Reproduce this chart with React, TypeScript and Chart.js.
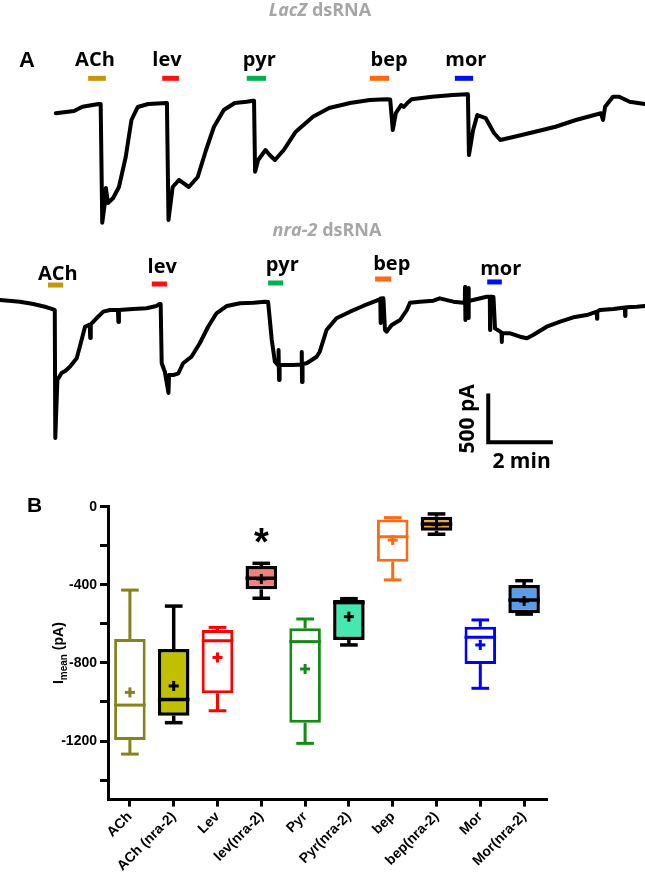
import React, { useEffect, useRef } from "react";
import { Chart, registerables } from "chart.js";

Chart.register(...registerables);

// ---------------- Panel A: current traces (time in s, current in pA) ----------------
const TIME_MAX = 1236.5;

const LACZ_TIME = [107, 142, 158, 189, 193, 196, 201, 203, 207, 217, 228, 241, 252, 264, 284, 320, 323, 331, 343, 351, 362, 379, 395, 410, 429, 450, 473, 485, 487, 489, 495, 509, 517, 527, 544, 567, 600, 631, 671, 709, 741, 748, 753, 759, 769, 774, 781, 789, 828, 868, 895, 897, 899, 907, 915, 931, 947, 959, 986, 1026, 1065, 1104, 1152, 1156, 1160, 1175, 1187, 1207, 1236];
const LACZ_CURRENT = [-142, -118, -72, -43, -43, -1313, -1102, -942, -1102, -1049, -931, -610, -214, -75, -43, -32, -1284, -931, -856, -888, -931, -824, -535, -289, -107, -32, -18, -7, -7, -767, -642, -535, -589, -642, -535, -339, -179, -86, -32, 0, 7, 5, -321, -139, -54, -75, -32, 7, 35, 54, 61, 61, -589, -321, -161, -193, -353, -428, -393, -339, -286, -214, -142, -214, -72, 35, 35, -18, -43];

const NRA_TIME = [0, 38, 64, 90, 102, 105, 106, 110, 118, 125, 134, 147, 153, 163, 172, 173, 174, 179, 188, 198, 211, 226, 227, 228, 255, 281, 300, 305, 308, 310, 316, 323, 324, 332, 342, 351, 367, 383, 399, 415, 435, 460, 486, 508, 514, 521, 527, 533, 534, 535, 536, 562, 578, 578.5, 579, 580, 588, 607, 613, 626, 645, 671, 696, 722, 729, 729.5, 730, 735, 738, 741, 751, 767, 780, 786, 805, 831, 843, 869, 888, 891, 891.5, 892, 892.5, 897.5, 898, 898.5, 899, 907, 933, 939, 939.5, 940, 943, 946, 949, 959, 961.5, 962, 962.5, 978, 997, 1010, 1022, 1048, 1074, 1099, 1125, 1144, 1144.5, 1145, 1150, 1176, 1198, 1198.5, 1199, 1201, 1221, 1236];
const NRA_CURRENT = [0, -18, -43, -78, -100, -107, -1477, -856, -781, -760, -714, -624, -500, -286, -262, -407, -262, -232, -179, -125, -107, -107, -235, -107, -96, -89, -64, -43, -43, -677, -767, -995, -803, -803, -784, -677, -607, -463, -286, -142, -64, -35, -29, -18, -21, -428, -660, -696, -535, -856, -696, -696, -690, -556, -877, -685, -677, -607, -553, -321, -196, -125, -64, -7, 10, -246, 15, 18, -321, -339, -268, -214, -107, -29, -18, -7, 18, -18, -29, -21, 139, -214, -21, -10, 128, -193, -10, 0, 35, 35, -321, 35, 35, 32, -303, -339, -350, -449, -352, -356, -393, -410, -375, -286, -232, -185, -161, -125, -200, -125, -107, -96, -80, -170, -80, -78, -72, -64];

const DRUGS = ["ACh", "lev", "pyr", "bep", "mor"];
const DRUG_COLORS = ["#c8960a", "#ff1010", "#00b050", "#ff6a10", "#0010f0"];

const LACZ_BAR_START = [169, 311, 473, 709, 872];
const LACZ_BAR_END = [203, 343, 510, 746, 907];
const LACZ_BAR_LEVEL = [232, 232, 232, 232, 232];
const LACZ_LABEL_TIME = [182, 320, 497, 746, 893];
const LACZ_LABEL_LEVEL = [364, 364, 364, 364, 364];

const NRA_BAR_START = [92, 291, 514, 719, 934];
const NRA_BAR_END = [121, 320, 543, 750, 962];
const NRA_BAR_LEVEL = [160, 171, 182, 225, 193];
const NRA_LABEL_TIME = [111, 311, 541, 751, 960];
const NRA_LABEL_LEVEL = [214, 285, 310, 321, 268];

// scale bar (in trace units)
const SCALE_T0 = 936;
const SCALE_I0 = -1523;
const SCALE_DT = 120; // 2 min
const SCALE_DI = 500; // 500 pA

// ---------------- Panel B: box plot ----------------
const CATEGORIES = ["ACh", "ACh (nra-2)", "Lev", "lev(nra-2)", "Pyr", "Pyr(nra-2)", "bep", "bep(nra-2)", "Mor", "Mor(nra-2)"];
const MINS = [-1267, -1106, -1045, -469, -1212, -708, -375, -141, -930, -550];
const Q1 = [-1195, -1070, -956, -423, -1106, -683, -282, -123, -806, -546];
const MEDIANS = [-1016, -987, -686, -367, -691, -491, -154, -88, -669, -478];
const Q3 = [-678, -729, -632, -304, -623, -478, -65, -51, -615, -401];
const MAXS = [-427, -509, -618, -290, -575, -471, -56, -37, -580, -379];
const MEANS = [-951, -918, -772, -370, -831, -563, -171, -92, -708, -483];
const OUTLINES = ["#84841a", "#000000", "#ff0000", "#000000", "#168a16", "#000000", "#ff6a10", "#000000", "#0000ff", "#000000"];
const FILLS = ["#ffffff", "#c0c000", "#ffffff", "#f08080", "#ffffff", "#44e8b0", "#ffffff", "#f5a040", "#ffffff", "#5b9be8"];
const Y_TICKS = [0, -200, -400, -600, -800, -1000, -1200, -1400];
const ASTERISK_CATEGORY = 3;
const ASTERISK_VALUE = -135;

const TITLE_FONT = '"Open Sans", "DejaVu Sans", sans-serif';
const ARIAL = '"Liberation Sans", Arial, sans-serif';

function drawTitle(ctx: CanvasRenderingContext2D, parts: [string, boolean][], cx: number, baseline: number) {
  ctx.save();
  ctx.fillStyle = "#a6a6a6";
  ctx.textAlign = "left";
  ctx.textBaseline = "alphabetic";
  let total = 0;
  const widths = parts.map(([t, it]) => {
    ctx.font = `${it ? "italic " : ""}bold 18px ${TITLE_FONT}`;
    const w = ctx.measureText(t).width;
    total += w;
    return w;
  });
  let x = cx - total / 2;
  parts.forEach(([t, it], i) => {
    ctx.font = `${it ? "italic " : ""}bold 18px ${TITLE_FONT}`;
    ctx.fillText(t, x, baseline);
    x += widths[i];
  });
  ctx.restore();
}

function drawDrugs(chart: any, starts: number[], ends: number[], levels: number[], labelT: number[], labelL: number[]) {
  const { ctx, scales } = chart;
  const x = scales.x, y = scales.y;
  ctx.save();
  DRUGS.forEach((d, i) => {
    const yb = y.getPixelForValue(levels[i]);
    ctx.strokeStyle = DRUG_COLORS[i];
    ctx.lineWidth = 5;
    ctx.lineCap = "butt";
    ctx.beginPath();
    ctx.moveTo(x.getPixelForValue(starts[i]), yb);
    ctx.lineTo(x.getPixelForValue(ends[i]), yb);
    ctx.stroke();
    ctx.fillStyle = "#000";
    ctx.font = `bold 20px ${TITLE_FONT}`;
    ctx.textAlign = "center";
    ctx.textBaseline = "alphabetic";
    ctx.fillText(d, x.getPixelForValue(labelT[i]), y.getPixelForValue(labelL[i]));
  });
  ctx.restore();
}

const lacZPlugin = {
  id: "lacZDecor",
  afterDatasetsDraw(chart: any) {
    const ctx = chart.ctx as CanvasRenderingContext2D;
    drawTitle(ctx, [["LacZ", true], [" dsRNA", false]], 320, 15.5);
    ctx.save();
    ctx.fillStyle = "#000";
    ctx.font = `bold 22px ${ARIAL}`;
    ctx.textAlign = "left";
    ctx.textBaseline = "alphabetic";
    ctx.fillText("A", 19, 67);
    ctx.restore();
    drawDrugs(chart, LACZ_BAR_START, LACZ_BAR_END, LACZ_BAR_LEVEL, LACZ_LABEL_TIME, LACZ_LABEL_LEVEL);
  },
};

const nraPlugin = {
  id: "nraDecor",
  afterDatasetsDraw(chart: any) {
    const ctx = chart.ctx as CanvasRenderingContext2D;
    const { x, y } = chart.scales;
    drawTitle(ctx, [["nra-2", true], [" dsRNA", false]], 327, 21);
    drawDrugs(chart, NRA_BAR_START, NRA_BAR_END, NRA_BAR_LEVEL, NRA_LABEL_TIME, NRA_LABEL_LEVEL);
    // scale bar
    const x0 = x.getPixelForValue(SCALE_T0);
    const x1 = x.getPixelForValue(SCALE_T0 + SCALE_DT);
    const y0 = y.getPixelForValue(SCALE_I0);
    const y1 = y.getPixelForValue(SCALE_I0 + SCALE_DI);
    ctx.save();
    ctx.strokeStyle = "#000";
    ctx.lineWidth = 4;
    ctx.lineCap = "square";
    ctx.beginPath();
    ctx.moveTo(x0, y1);
    ctx.lineTo(x0, y0);
    ctx.lineTo(x1, y0);
    ctx.stroke();
    ctx.fillStyle = "#000";
    ctx.font = `bold 21px ${TITLE_FONT}`;
    ctx.textAlign = "center";
    ctx.textBaseline = "alphabetic";
    ctx.fillText("2 min", (x0 + x1) / 2 + 2, y0 + 26);
    ctx.translate(x0 - 14, (y0 + y1) / 2);
    ctx.rotate(-Math.PI / 2);
    ctx.fillText("500 pA", 0, 0);
    ctx.restore();
  },
};

const boxPlugin = {
  id: "boxExtras",
  afterDatasetsDraw(chart: any) {
    const ctx = chart.ctx as CanvasRenderingContext2D;
    const { x, y } = chart.scales;
    const meta = chart.getDatasetMeta(0);
    meta.data.forEach((bar: any, i: number) => {
      const cx = bar.x;
      const w = bar.width;
      const cap = w * 0.28;
      const col = OUTLINES[i];
      const lw = col === "#000000" ? 3.5 : 3;
      const py = (v: number) => y.getPixelForValue(v);
      ctx.save();
      ctx.strokeStyle = col;
      ctx.lineWidth = lw;
      ctx.lineCap = "butt";
      const seg = (ax: number, ay: number, bx: number, by: number) => {
        ctx.beginPath();
        ctx.moveTo(ax, ay);
        ctx.lineTo(bx, by);
        ctx.stroke();
      };
      // whiskers
      seg(cx, py(Q3[i]), cx, py(MAXS[i]));
      seg(cx - cap, py(MAXS[i]), cx + cap, py(MAXS[i]));
      seg(cx, py(Q1[i]), cx, py(MINS[i]));
      seg(cx - cap, py(MINS[i]), cx + cap, py(MINS[i]));
      // median
      seg(cx - w / 2, py(MEDIANS[i]), cx + w / 2, py(MEDIANS[i]));
      // mean +
      const my = py(MEANS[i]);
      ctx.lineWidth = 3;
      seg(cx - 5, my, cx + 5, my);
      seg(cx, my - 5, cx, my + 5);
      ctx.restore();
    });
    // asterisk
    const ax = x.getPixelForValue(ASTERISK_CATEGORY);
    const ay = y.getPixelForValue(ASTERISK_VALUE);
    ctx.save();
    ctx.fillStyle = "#000";
    ctx.font = `bold 38px ${ARIAL}`;
    ctx.textAlign = "center";
    ctx.textBaseline = "alphabetic";
    ctx.fillText("*", ax, ay + 0.59 * 38);
    // B label
    ctx.font = `bold 21px ${ARIAL}`;
    ctx.textAlign = "left";
    ctx.fillText("B", 27, 37);
    // y title: I_mean (pA)
    const area = chart.chartArea;
    ctx.translate(57.5, (area.top + area.bottom) / 2);
    ctx.rotate(-Math.PI / 2);
    const f1 = `bold 14px ${ARIAL}`;
    const f2 = `bold 10px ${ARIAL}`;
    ctx.font = f1;
    const w1 = ctx.measureText("I").width;
    const w3 = ctx.measureText(" (pA)").width;
    ctx.font = f2;
    const w2 = ctx.measureText("mean").width;
    let tx = -(w1 + w2 + w3) / 2;
    ctx.font = f1;
    ctx.fillText("I", tx, 5);
    tx += w1;
    ctx.font = f2;
    ctx.fillText("mean", tx, 9);
    tx += w2;
    ctx.font = f1;
    ctx.fillText(" (pA)", tx, 5);
    ctx.restore();
  },
};

function traceConfig(time: number[], current: number[], yMin: number, yMax: number, plugin: any): any {
  return {
    type: "line",
    data: {
      datasets: [
        {
          data: time.map((t, i) => ({ x: t, y: current[i] })),
          borderColor: "#000",
          borderWidth: 4,
          pointRadius: 0,
          tension: 0,
          fill: false,
          borderJoinStyle: "round",
          borderCapStyle: "round",
        },
      ],
    },
    options: {
      animation: false,
      responsive: false,
      maintainAspectRatio: false,
      devicePixelRatio: 1,
      events: [],
      layout: { padding: 0 },
      plugins: { legend: { display: false }, tooltip: { enabled: false } },
      scales: {
        x: { type: "linear", display: false, min: 0, max: TIME_MAX },
        y: { type: "linear", display: false, min: yMin, max: yMax },
      },
    },
    plugins: [plugin],
  };
}

export default function App() {
  const c1 = useRef<HTMLCanvasElement>(null);
  const c2 = useRef<HTMLCanvasElement>(null);
  const c3 = useRef<HTMLCanvasElement>(null);

  useEffect(() => {
    const charts: Chart[] = [];
    charts.push(new Chart(c1.current!, traceConfig(LACZ_TIME, LACZ_CURRENT, -1551.5, 1070, lacZPlugin)));
    charts.push(new Chart(c2.current!, traceConfig(NRA_TIME, NRA_CURRENT, -1872.5, 909.5, nraPlugin)));

    const tickFont = { family: ARIAL, size: 14, weight: "bold" as const };
    charts.push(
      new Chart(c3.current!, {
        type: "bar",
        data: {
          labels: CATEGORIES,
          datasets: [
            {
              data: CATEGORIES.map((_, i) => [Q1[i], Q3[i]] as [number, number]),
              backgroundColor: FILLS,
              borderColor: OUTLINES,
              borderWidth: OUTLINES.map((c) => (c === "#000000" ? 3.5 : 3)),
              borderSkipped: false,
              barPercentage: 0.72,
              categoryPercentage: 1,
            },
          ],
        },
        options: {
          animation: false,
          responsive: false,
          maintainAspectRatio: false,
          devicePixelRatio: 1,
          events: [],
          layout: { padding: { top: 31.7, right: 99, left: 0, bottom: 0 } },
          plugins: { legend: { display: false }, tooltip: { enabled: false } },
          scales: {
            x: {
              offset: true,
              grid: { display: true, drawOnChartArea: false, drawTicks: true, tickLength: 7, lineWidth: 3, color: "#000", offset: false },
              border: { display: true, color: "#000", width: 3 },
              ticks: { autoSkip: false, maxRotation: 45, minRotation: 45, color: "#000", font: tickFont, padding: 2 },
              afterFit: (s: any) => {
                s.height = 76.4;
              },
            },
            y: {
              min: -1500,
              max: 0,
              afterBuildTicks: (s: any) => {
                s.ticks = Y_TICKS.map((v) => ({ value: v }));
              },
              ticks: {
                color: "#000",
                font: tickFont,
                padding: 3,
                callback: (v: any) => (Number(v) % 400 === 0 ? String(v) : ""),
              },
              grid: { display: true, drawOnChartArea: false, drawTicks: true, tickLength: 8, lineWidth: 3, color: "#000" },
              border: { display: true, color: "#000", width: 3 },
              afterFit: (s: any) => {
                s.width = 108;
              },
            },
          },
        },
        plugins: [boxPlugin],
      } as any)
    );
    return () => charts.forEach((c) => c.destroy());
  }, []);

  return (
    <div style={{ position: "absolute", left: 0, top: 0, width: 645, height: 876, background: "#fff", overflow: "hidden" }}>
      <canvas ref={c1} width={645} height={245} style={{ position: "absolute", left: 0, top: 0 }} />
      <canvas ref={c2} width={645} height={260} style={{ position: "absolute", left: 0, top: 215 }} />
      <canvas ref={c3} width={645} height={401} style={{ position: "absolute", left: 0, top: 475 }} />
    </div>
  );
}
